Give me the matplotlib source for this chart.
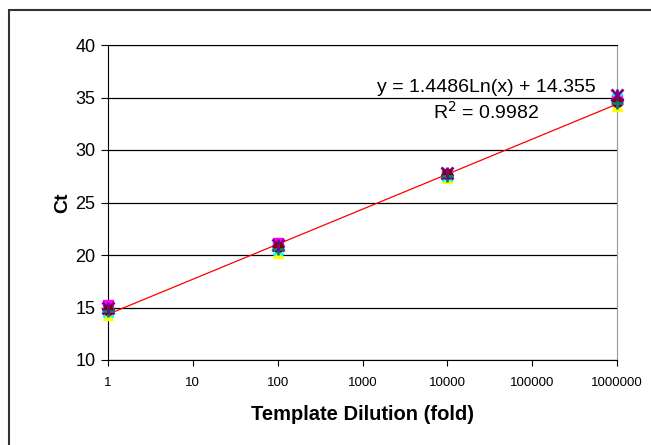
import numpy as np
import matplotlib
matplotlib.use('Agg')
import matplotlib.pyplot as plt
from matplotlib.patches import Rectangle

plt.rcParams['font.family'] = ['Liberation Sans', 'DejaVu Sans']

# dilution points and replicate Ct values
dilution = [1, 100, 10000, 1000000]
rep1 = [14.9, 20.9, 27.6, 34.9]
rep2 = [15.2, 21.1, 27.7, 34.8]
rep3 = [14.3, 20.2, 27.3, 34.2]
rep4 = [14.6, 20.5, 27.5, 35.0]
rep5 = [15.0, 21.0, 27.8, 35.2]
rep6 = [14.8, 20.8, 27.7, 34.6]
rep7 = [14.7, 20.6, 27.5, 34.5]
# trendline from the fit shown on the chart
slope = 1.4486
intercept = 14.355
eq_text = 'y = 1.4486Ln(x) + 14.355'
r2_text = 'R$^2$ = 0.9982'

fig = plt.figure(figsize=(6.51, 4.45), dpi=100)
fig.patches.append(Rectangle((9/651, -0.1), 1.2, 1.1 - 10/445, transform=fig.transFigure,
                             fill=False, edgecolor='#333333', linewidth=1.5))
ax = fig.add_axes([108/651, 1 - 360/445, 509/651, 315/445])

ax.set_xscale('log')
ax.set_xlim(1, 1000000)
ax.set_ylim(10, 40)
ax.set_yticks(range(10, 41, 5))
ax.set_xticks([1, 10, 100, 1000, 10000, 100000, 1000000])
ax.set_xticklabels(['1', '10', '100', '1000', '10000', '100000', '1000000'])
ax.minorticks_off()
ax.yaxis.grid(True, color='black', linewidth=0.9)
ax.set_axisbelow(True)
ax.spines['top'].set_color('black')
ax.spines['right'].set_color('#999999')
ax.spines['left'].set_color('black')
ax.spines['bottom'].set_color('black')
ax.tick_params(axis='y', labelsize=13, length=5, direction='out', pad=4)
ax.tick_params(axis='x', labelsize=9.5, length=4, direction='out', pad=8)

xl = np.logspace(0, 6, 200)
ax.plot(xl, slope * np.log(xl) + intercept, color='red', linewidth=0.9, zorder=2)

styles = [
    (rep1, 'D', '#000080', 6),
    (rep2, 's', '#FF00FF', 7),
    (rep3, '^', '#FFFF00', 7),
    (rep4, 'x', '#00FFFF', 7),
    (rep5, 'x', '#800080', 8),
    (rep6, 'o', '#800000', 7),
    (rep7, '+', '#008080', 9),
]
for vals, m, c, ms in styles:
    if m in ('x', '+'):
        ax.plot(dilution, vals, linestyle='none', marker=m, color=c, markersize=ms,
                markeredgewidth=2, zorder=3, clip_on=False)
    else:
        ax.plot(dilution, vals, linestyle='none', marker=m, color=c, markersize=ms,
                markeredgecolor=c, zorder=3, clip_on=False)
# vertical stroke of the star marker
ax.plot(dilution, rep5, linestyle='none', marker='|', color='#800080', markersize=8,
        markeredgewidth=2, zorder=3, clip_on=False)

ax.text(486/651, 1 - 87/445, eq_text, transform=fig.transFigure, ha='center', va='center', fontsize=14)
ax.text(486/651, 1 - 112/445, r2_text, transform=fig.transFigure, ha='center', va='center', fontsize=14)

ax.set_xlabel('Template Dilution (fold)', fontsize=14.5, fontweight='bold', labelpad=12)
ax.set_ylabel('Ct', fontsize=14, fontweight='bold', labelpad=3)

fig.savefig('out.png', dpi=100)
